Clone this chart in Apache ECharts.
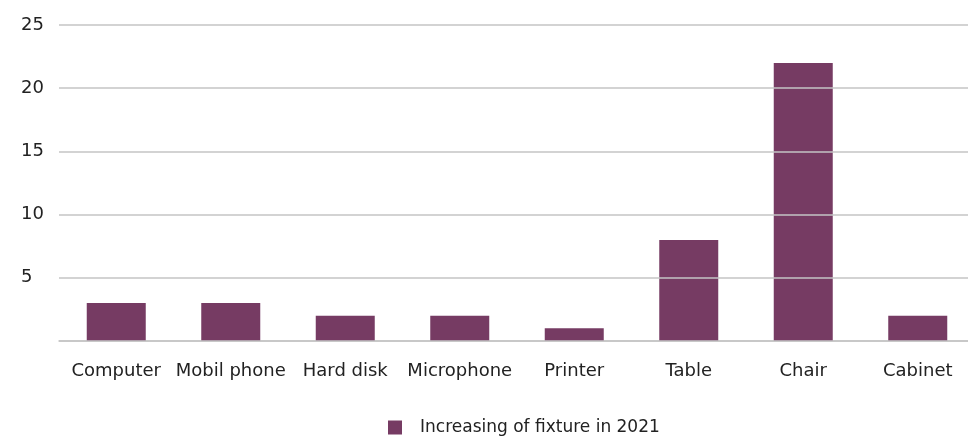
<!DOCTYPE html>
<html><head><meta charset="utf-8">
<script src="https://cdn.jsdelivr.net/npm/echarts@6/dist/echarts.min.js"></script>
<style>html,body{margin:0;padding:0;background:#fff;overflow:hidden}#c{width:975px;height:436px}</style>
</head><body><div id="c"></div>
<script>
const categories = ["Computer","Mobil phone","Hard disk","Microphone","Printer","Table","Chair","Cabinet"];
const values = [3,3,2,2,1,8,22,2];
const seriesName = "Increasing of fixture in 2021";
const yTicks = [0,5,10,15,20,25];

const FONT = 'DejaVu Sans';
const chart = echarts.init(document.getElementById('c'), null, {renderer:'canvas'});
chart.setOption({
  animation:false,
  textStyle:{fontFamily:FONT},
  grid:{left:59, top:25, right:0, height:316, containLabel:false},
  legend:{
    top:414, left:383, itemWidth:14, itemHeight:14,
    icon:'rect',
    textStyle:{fontSize:17, color:'#222', fontFamily:FONT, padding:[0,0,0,13]},
    data:[seriesName]
  },
  xAxis:{
    type:'category', data:categories,
    axisLine:{show:true, lineStyle:{color:'#c4c4c4', width:1.5}},
    axisTick:{show:false},
    axisLabel:{fontSize:18, color:'#222', margin:21, interval:0, fontFamily:FONT}
  },
  yAxis:{
    type:'value', min:yTicks[0], max:yTicks[yTicks.length-1], interval:5, z:3,
    axisLine:{show:false}, axisTick:{show:false},
    splitLine:{lineStyle:{color:'#c4c4c4', width:1.5}},
    axisLabel:{fontSize:18, color:'#222', align:'left', margin:38, fontFamily:FONT,
      formatter:v=> v===0 ? '' : String(v)}
  },
  series:[{
    name:seriesName, type:'bar', data:values, barWidth:59,
    itemStyle:{color:'#763B63'}, z:2
  }]
});
</script></body></html>
